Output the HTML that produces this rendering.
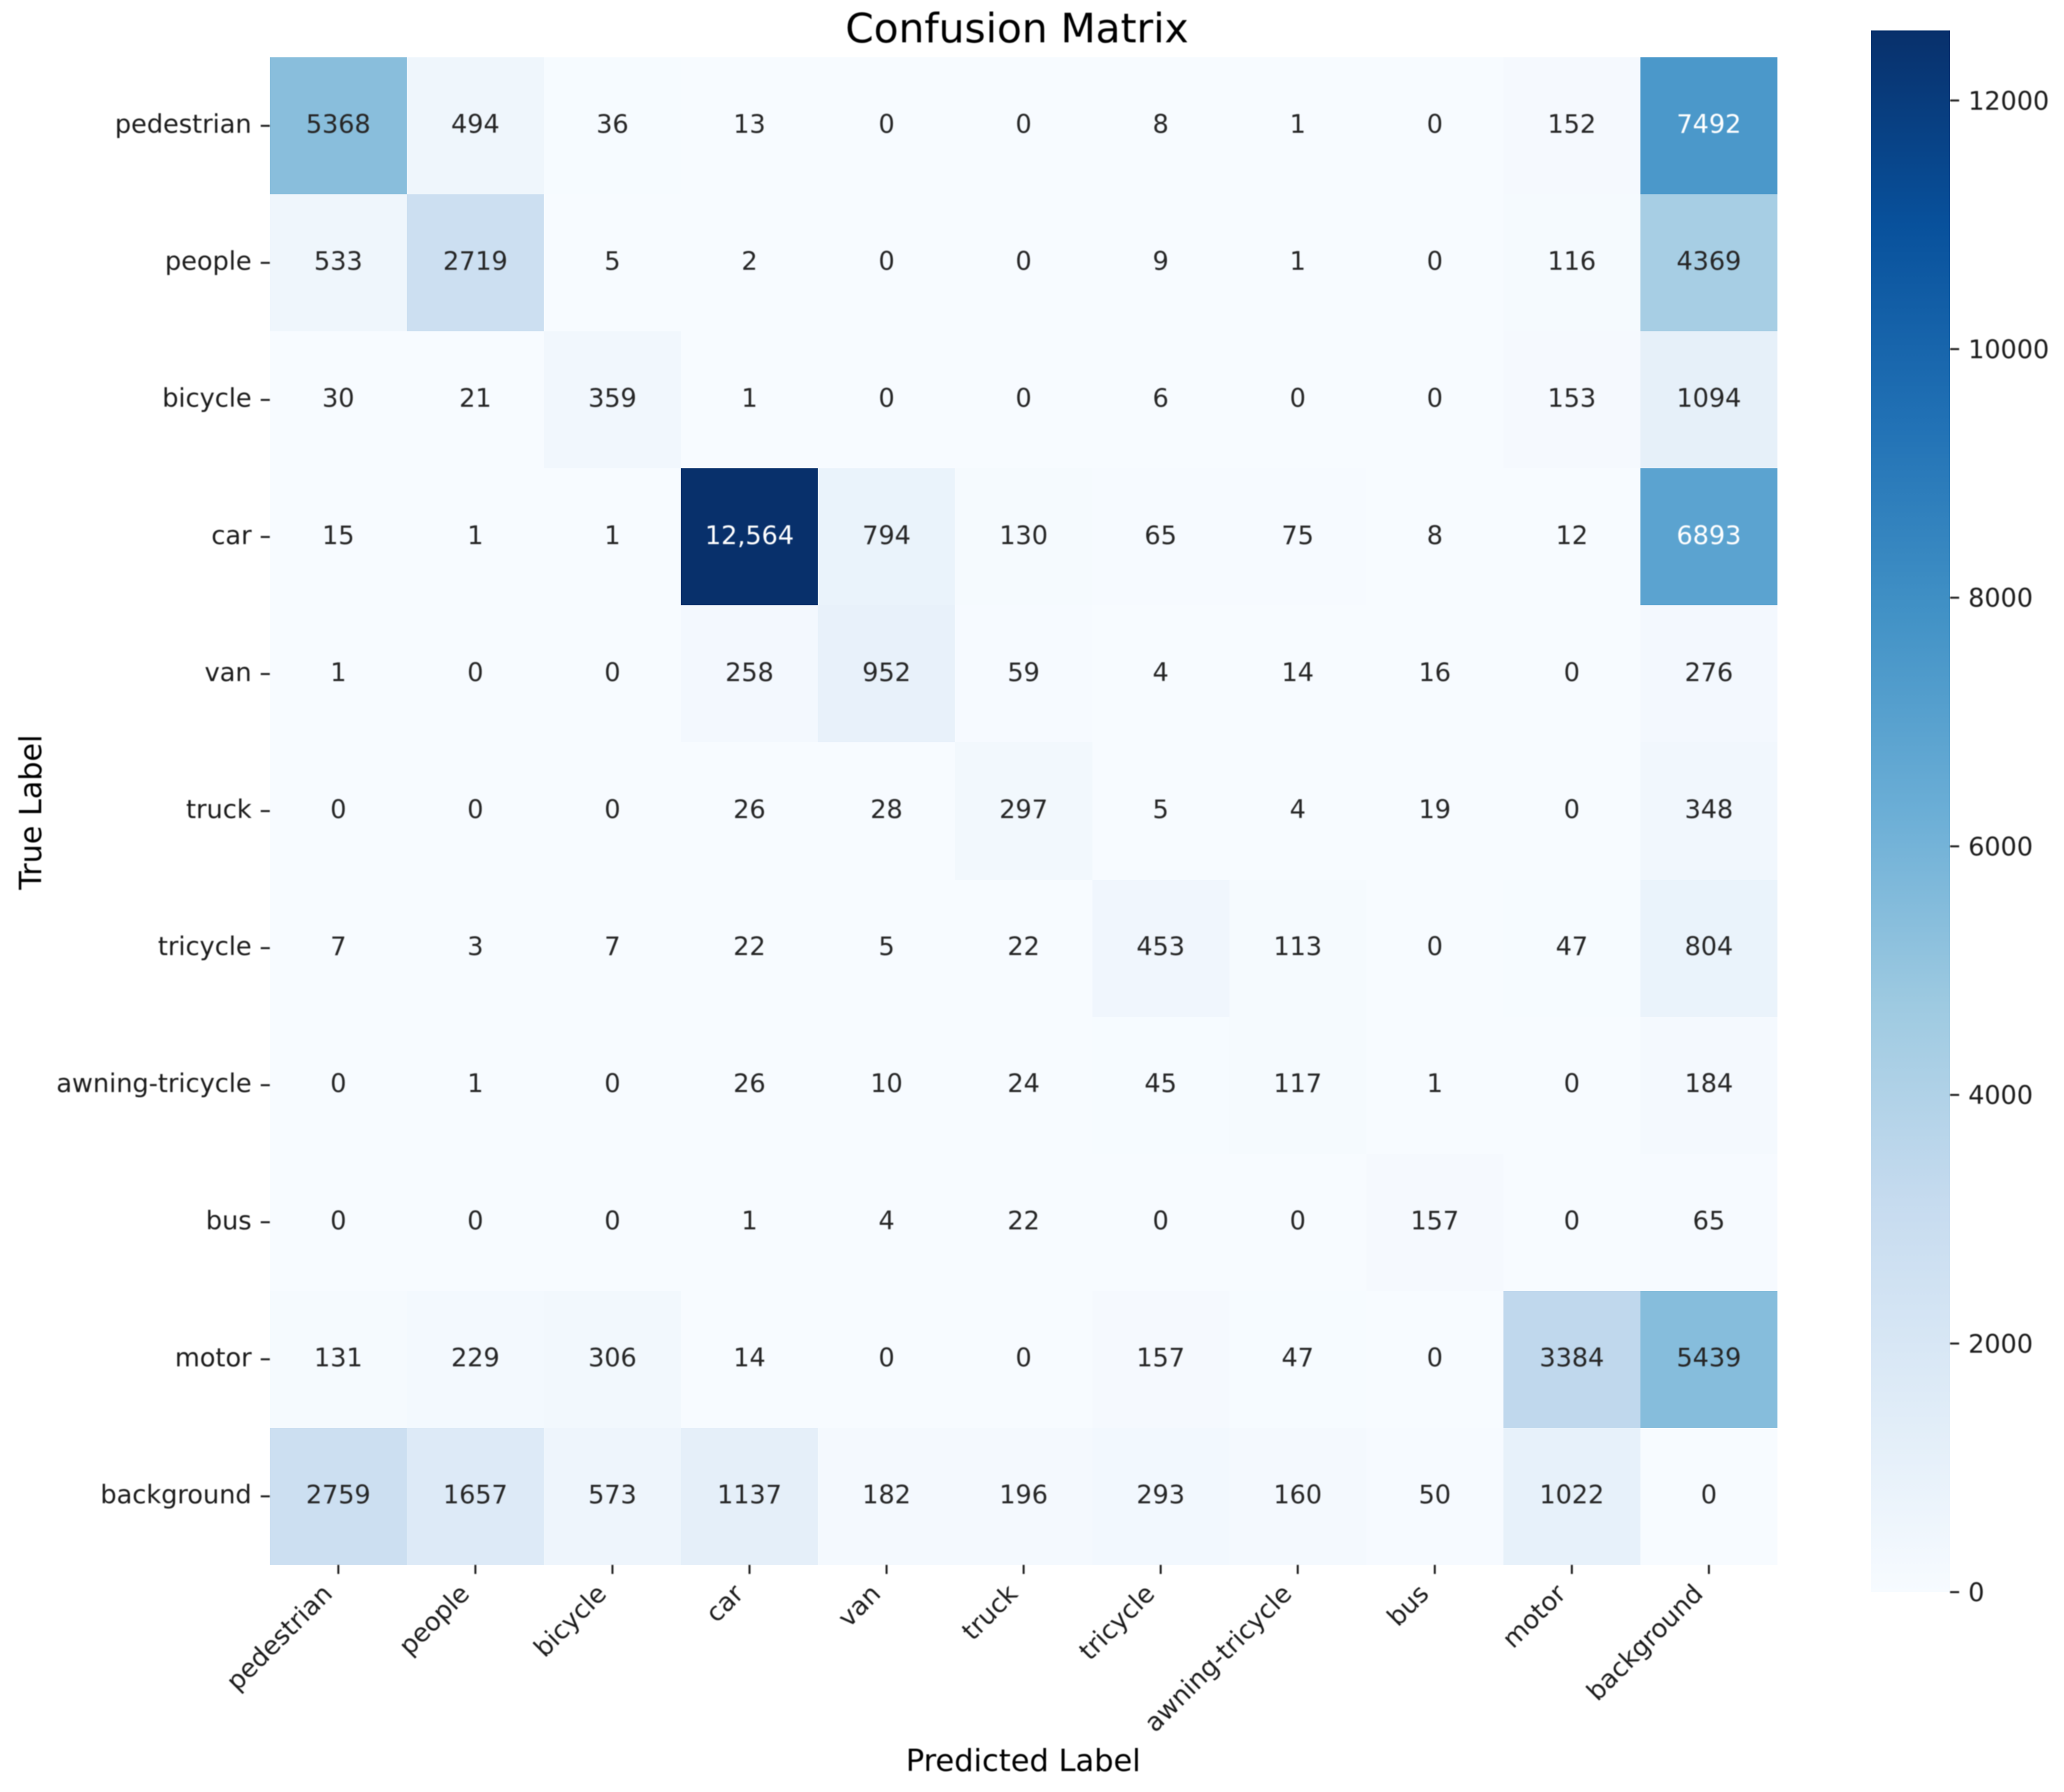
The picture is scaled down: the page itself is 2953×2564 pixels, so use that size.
<!DOCTYPE html>
<html lang="en">
<head>
<meta charset="utf-8">
<title>Confusion Matrix</title>
<style>
html,body{margin:0;padding:0;background:#fff;}
svg{display:block;}
text{font-family:"DejaVu Sans","Liberation Sans",sans-serif;}
</style>
</head>
<body>
<svg id="chart" xmlns="http://www.w3.org/2000/svg" width="2953" height="2564" viewBox="0 0 2953 2564">
  <defs>
    <linearGradient id="bluesGradient" x1="0" y1="1" x2="0" y2="0"></linearGradient>
    <filter id="soft" x="-5%" y="-5%" width="110%" height="110%"><feGaussianBlur stdDeviation="0.8"/></filter>
  </defs>
  <rect x="0" y="0" width="2953" height="2564" fill="#ffffff"/>
  <text x="1455" y="60.5" font-size="58.2" text-anchor="middle" fill="#000" filter="url(#soft)">Confusion Matrix</text>
  <text x="1464" y="2534" font-size="43.6" text-anchor="middle" fill="#000" filter="url(#soft)">Predicted Label</text>
  <text transform="translate(59 1162) rotate(-90)" x="0" y="0" font-size="43.2" text-anchor="middle" fill="#000" filter="url(#soft)">True Label</text>
  <g id="cells" shape-rendering="crispEdges"></g>
  <g id="annots" filter="url(#soft)"></g>
  <g id="xaxis" filter="url(#soft)"></g>
  <g id="yaxis" filter="url(#soft)"></g>
  <rect id="cbar" x="2677" y="43.5" width="113" height="2234.5" fill="url(#bluesGradient)"/>
  <g id="cbaraxis" filter="url(#soft)"></g>
</svg>
<script>
const categories = ["pedestrian","people","bicycle","car","van","truck","tricycle","awning-tricycle","bus","motor","background"];
const rowPedestrian = [5368,494,36,13,0,0,8,1,0,152,7492];
const rowPeople = [533,2719,5,2,0,0,9,1,0,116,4369];
const rowBicycle = [30,21,359,1,0,0,6,0,0,153,1094];
const rowCar = [15,1,1,12564,794,130,65,75,8,12,6893];
const rowVan = [1,0,0,258,952,59,4,14,16,0,276];
const rowTruck = [0,0,0,26,28,297,5,4,19,0,348];
const rowTricycle = [7,3,7,22,5,22,453,113,0,47,804];
const rowAwningTricycle = [0,1,0,26,10,24,45,117,1,0,184];
const rowBus = [0,0,0,1,4,22,0,0,157,0,65];
const rowMotor = [131,229,306,14,0,0,157,47,0,3384,5439];
const rowBackground = [2759,1657,573,1137,182,196,293,160,50,1022,0];
const colorbarTicks = [0,2000,4000,6000,8000,10000,12000];
const bluesStops = ["#f7fbff","#deebf7","#c6dbef","#9ecae1","#6baed6","#4292c6","#2171b5","#08519c","#08306b"];

const matrix = [rowPedestrian,rowPeople,rowBicycle,rowCar,rowVan,rowTruck,rowTricycle,rowAwningTricycle,rowBus,rowMotor,rowBackground];
const SVGNS = "http://www.w3.org/2000/svg";
const plot = {left:386, top:82, size:2157};
const cbar = {left:2677, right:2790, top:43.5, bottom:2278};
const vmax = Math.max.apply(null, matrix.map(function(r){return Math.max.apply(null, r);}));
const n = categories.length;
const cellSize = plot.size / n;

function xScale(i){ return plot.left + i * cellSize; }
function yScale(i){ return plot.top + i * cellSize; }
function cbarScale(v){ return cbar.bottom - (v / vmax) * (cbar.bottom - cbar.top); }

function hexToRgb(h){ return [parseInt(h.substr(1,2),16),parseInt(h.substr(3,2),16),parseInt(h.substr(5,2),16)]; }
function colorRgb(v){
  const t = Math.max(0, Math.min(1, v / vmax)) * (bluesStops.length - 1);
  const i = Math.min(Math.floor(t), bluesStops.length - 2);
  const f = t - i;
  const a = hexToRgb(bluesStops[i]);
  const b = hexToRgb(bluesStops[i + 1]);
  return [0,1,2].map(function(k){ return Math.round(a[k] + (b[k] - a[k]) * f); });
}
function linear(c){ c = c / 255; return c <= 0.03928 ? c / 12.92 : Math.pow((c + 0.055) / 1.055, 2.4); }
function textColor(rgb){
  const lum = 0.2126 * linear(rgb[0]) + 0.7152 * linear(rgb[1]) + 0.0722 * linear(rgb[2]);
  return lum > 0.408 ? "#262626" : "#ffffff";
}
function formatValue(v){ return v >= 10000 ? v.toLocaleString("en-US") : String(v); }
function make(tag, attrs, parent, txt){
  const el = document.createElementNS(SVGNS, tag);
  Object.keys(attrs).forEach(function(k){ el.setAttribute(k, attrs[k]); });
  if (txt !== undefined) el.textContent = txt;
  parent.appendChild(el);
  return el;
}

const grad = document.getElementById("bluesGradient");
bluesStops.forEach(function(c, i){
  make("stop", {offset: (i / (bluesStops.length - 1)), "stop-color": c}, grad);
});

const cellsG = document.getElementById("cells");
const annotsG = document.getElementById("annots");
matrix.forEach(function(row, r){
  row.forEach(function(v, c){
    const rgb = colorRgb(v);
    const x0 = Math.round(xScale(c));
    const x1 = Math.round(xScale(c + 1));
    const y0 = Math.round(yScale(r));
    const y1 = Math.round(yScale(r + 1));
    const cell = make("rect", {x:x0, y:y0, width:x1 - x0, height:y1 - y0, fill:"rgb(" + rgb.join(",") + ")"}, cellsG);
    
    
    const label = make("text", {x:xScale(c) + cellSize / 2, y:yScale(r) + cellSize / 2 + 10, "font-size":36.4, "text-anchor":"middle", fill:textColor(rgb)}, annotsG, formatValue(v));
    
    
  });
});

const xAxisG = document.getElementById("xaxis");
const yAxisG = document.getElementById("yaxis");
const tickColor = "#1a1a1a";
categories.forEach(function(name, i){
  const cx = xScale(i) + cellSize / 2;
  const cy = yScale(i) + cellSize / 2;
  const xt = make("line", {x1:cx, x2:cx, y1:plot.top + plot.size, y2:plot.top + plot.size + 13, stroke:tickColor, "stroke-width":2.8}, xAxisG);
  
  
  const xl = make("text", {transform:"translate(" + (cx - 6.5) + " " + (plot.top + plot.size + 43.5) + ") rotate(-45)", "font-size":36.6, "text-anchor":"end", fill:tickColor}, xAxisG, name);
  
  
  const yt = make("line", {x1:plot.left - 13, x2:plot.left, y1:cy, y2:cy, stroke:tickColor, "stroke-width":2.8}, yAxisG);
  
  
  const yl = make("text", {x:plot.left - 26, y:cy + 10, "font-size":36.6, "text-anchor":"end", fill:tickColor}, yAxisG, name);
  
  
});

const cbarAxisG = document.getElementById("cbaraxis");
colorbarTicks.forEach(function(v){
  const y = cbarScale(v);
  const t = make("line", {x1:cbar.right, x2:cbar.right + 13, y1:y, y2:y, stroke:tickColor, "stroke-width":2.8}, cbarAxisG);
  
  
  const l = make("text", {x:cbar.right + 26, y:y + 13, "font-size":36.4, fill:tickColor}, cbarAxisG, String(v));
  
  
});
</script>
</body>
</html>
